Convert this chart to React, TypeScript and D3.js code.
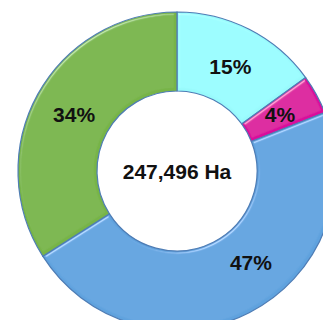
import React, { useEffect, useRef } from "react";
import * as d3 from "d3";

// slice order, clockwise from 12 o'clock
const shares = [15, 4, 47, 34];
const labels = ["15%", "4%", "47%", "34%"];
const colors = ["#98fafc", "#da0f9c", "#5fa2de", "#77b446"];
const totalLabel = "247,496 Ha";

// little nudge for the labels (degrees), Excel didn't put the 47% on the centroid
const labelShift = [0, 0, -12, 0];

const W = 323;
const H = 320;

export default function App() {
  const ref = useRef<SVGSVGElement>(null);

  useEffect(() => {
    const svg = d3.select(ref.current);
    svg.selectAll("*").remove();

    const cx = 177;
    const cy = 171;
    const rOuter = 159;
    const rInner = 80;

    const defs = svg.append("defs");
    const f = defs.append("filter").attr("id", "bevel")
      .attr("x", "-10%").attr("y", "-10%").attr("width", "120%").attr("height", "120%");
    f.append("feGaussianBlur").attr("in", "SourceAlpha").attr("stdDeviation", 1.8).attr("result", "blur");
    const spec = f.append("feSpecularLighting").attr("in", "blur")
      .attr("surfaceScale", 3).attr("specularConstant", 0.35).attr("specularExponent", 28)
      .attr("lighting-color", "#ffffff").attr("result", "spec");
    spec.append("feDistantLight").attr("azimuth", 235).attr("elevation", 40);
    f.append("feComposite").attr("in", "spec").attr("in2", "SourceAlpha").attr("operator", "in").attr("result", "specIn");
    f.append("feComposite").attr("in", "SourceGraphic").attr("in2", "specIn")
      .attr("operator", "arithmetic").attr("k1", 0).attr("k2", 1).attr("k3", 1).attr("k4", 0);

    const pie = d3.pie<number>().sort(null).value(d => d);
    const arcs = pie(shares);
    const arc = d3.arc<d3.PieArcDatum<number>>().innerRadius(rInner).outerRadius(rOuter);

    const g = svg.append("g").attr("transform", `translate(${cx},${cy})`);

    g.selectAll("path.slice")
      .data(arcs)
      .enter()
      .append("path")
      .attr("class", "slice")
      .attr("d", arc)
      .attr("fill", (d, i) => colors[i])
      .attr("stroke", "#4f7db5")
      .attr("stroke-width", 1.2)
      .attr("filter", "url(#bevel)");

    const rMid = (rInner + rOuter) / 2 - 2;
    g.selectAll("text.lbl")
      .data(arcs)
      .enter()
      .append("text")
      .attr("class", "lbl")
      .attr("x", (d, i) => {
        const a = (d.startAngle + d.endAngle) / 2 + (labelShift[i] * Math.PI) / 180;
        return Math.sin(a) * rMid;
      })
      .attr("y", (d, i) => {
        const a = (d.startAngle + d.endAngle) / 2 + (labelShift[i] * Math.PI) / 180;
        return -Math.cos(a) * rMid;
      })
      .attr("dy", "0.36em")
      .attr("text-anchor", "middle")
      .attr("font-family", "Liberation Sans, Arial, sans-serif")
      .attr("font-weight", "bold")
      .attr("font-size", "21px")
      .attr("fill", "#111")
      .text((d, i) => labels[i]);

    g.append("text")
      .attr("x", 0)
      .attr("y", 0)
      .attr("dy", "0.36em")
      .attr("text-anchor", "middle")
      .attr("font-family", "Liberation Sans, Arial, sans-serif")
      .attr("font-weight", "bold")
      .attr("font-size", "21px")
      .attr("fill", "#111")
      .text(totalLabel);
  }, []);

  return (
    <svg
      ref={ref}
      width={W}
      height={H}
      style={{ position: "absolute", left: 0, top: 0, background: "#fff" }}
    />
  );
}
